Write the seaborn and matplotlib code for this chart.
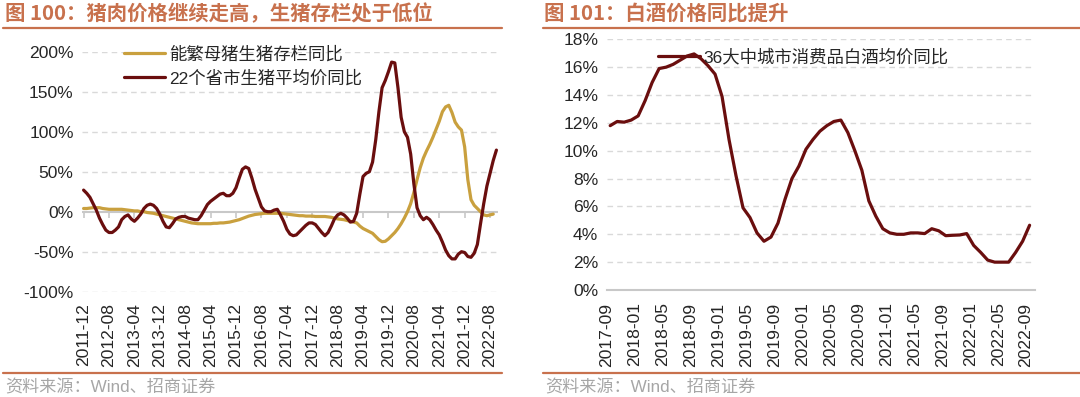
import numpy as np
import pandas as pd
import matplotlib
matplotlib.use('Agg')
import matplotlib.pyplot as plt
from matplotlib import font_manager
from matplotlib.lines import Line2D
import seaborn as sns

# ---------------- data ----------------
# left: 2011-12 .. 2022-10, monthly (%)
pig_months = pd.period_range('2011-12', '2022-10', freq='M').strftime('%Y-%m').tolist()
pig_price_yoy = [
    27, 23, 18, 10, 2, -8, -16, -23, -26, -26,
    -23, -19, -10, -6, -4, -9, -12, -8, -3, 4,
    8, 9.5, 8, 4, -3, -12, -19, -20, -15, -9,
    -7, -6, -6, -8, -9, -10, -10, -5, 2, 9,
    13, 16, 19, 22, 23, 20, 20, 23, 30, 42,
    53, 56, 54, 42, 28, 17, 6, 1, 0, 0,
    2, 3, -4, -12, -22, -28, -30, -29, -25, -21,
    -17, -14, -14, -16, -21, -26, -30, -26, -18, -9,
    -4, -2, -4, -8, -13, -12, -2, 22, 44, 48,
    50, 62, 90, 125, 155, 164, 175, 187, 186, 155,
    118, 100, 93, 72, 35, 5, -5, -10, -7, -10,
    -16, -23, -29, -38, -48, -55, -59, -59, -53, -50,
    -51, -56, -57, -52, -41, -15, 10, 32, 48, 64,
    77,
]
sow_stock_yoy = [
    4, 4, 4.5, 5, 5, 5, 4, 3.5, 3, 3,
    3, 3, 3, 2.5, 2, 1.5, 1, 1, 0, 0,
    -1, -1.5, -2, -3, -4, -5, -6, -7, -8, -9,
    -10, -11, -12, -13, -14, -14.5, -15, -15, -15, -15,
    -15, -14.5, -14.5, -14, -14, -13.5, -13, -12, -11, -10,
    -8.5, -7, -5.5, -4.5, -3.5, -3, -2.5, -2, -2, -2,
    -2, -2, -2, -2.5, -3, -3.5, -4, -4.5, -5, -5,
    -5.5, -5.5, -5.5, -6, -6, -6, -6, -6.5, -7, -8,
    -9, -9.5, -10, -11, -12, -13, -14, -18, -21, -23,
    -25, -27, -31, -35, -37.5, -37, -34, -30, -26, -21,
    -15, -8, 0, 10, 24, 40, 55, 67, 76, 84,
    93, 103, 113, 125, 131, 133, 124, 112, 106, 102,
    81, 40, 15, 8, 4, 0, -4, -5, -4, -3,
]
pig_yticks = [-100, -50, 0, 50, 100, 150, 200]

# right: 2017-09 .. 2022-09, monthly (%)
liquor_months = pd.period_range('2017-09', '2022-09', freq='M').strftime('%Y-%m').tolist()
liquor_price_yoy = [
    11.8, 12.1, 12.05, 12.2, 12.5, 13.6, 14.9, 15.9, 16.0, 16.2,
    16.5, 16.8, 16.95, 16.6, 16.1, 15.5, 13.9, 10.8, 8.2, 5.9,
    5.2, 4.1, 3.5, 3.8, 4.8, 6.5, 8.0, 8.9, 10.1, 10.8,
    11.4, 11.8, 12.1, 12.2, 11.3, 10.0, 8.6, 6.4, 5.3, 4.4,
    4.1, 4.0, 4.0, 4.1, 4.1, 4.05, 4.4, 4.25, 3.9, 3.93,
    3.95, 4.05, 3.2, 2.7, 2.15, 2.0, 2.0, 2.0, 2.7, 3.5,
    4.65,
]
liquor_yticks = list(range(0, 20, 2))

title_left = '图 100：猪肉价格继续走高，生猪存栏处于低位'
title_right = '图 101：白酒价格同比提升'
label_sow = '能繁母猪生猪存栏同比'
label_pig = '22个省市生猪平均价同比'
label_liquor = '36大中城市消费品白酒均价同比'
source_text = '资料来源：Wind、招商证券'

# ---------------- style ----------------
sns.set_theme(style='white')
available = {f.name for f in font_manager.fontManager.ttflist}
LATIN = next((f for f in ['Liberation Sans', 'Arimo', 'Arial', 'Roboto', 'DejaVu Sans']
              if f in available), 'DejaVu Sans')
plt.rcParams['font.family'] = [LATIN, 'Noto Sans CJK SC', 'DejaVu Sans']
CJK = ['Noto Sans CJK SC', 'DejaVu Sans']
MIXED = [LATIN, 'Noto Sans CJK SC', 'DejaVu Sans']
TICK_FS = 12.6

ACCENT = '#C8714D'
GOLD = '#C9A03E'
MAROON = '#6A0E0E'
GRID = '#D9D9D9'
AXIS = '#C8C8C8'
TEXT = '#262626'
SRC = '#A6A6A6'

fig = plt.figure(figsize=(10.8, 3.97), dpi=100)

# ---------------- left chart ----------------
ax1 = fig.add_axes([82 / 1080, 1 - 291.7 / 397, 416 / 1080, 240 / 397])
df_pig = pd.DataFrame({'x': np.arange(len(pig_months)), 'y': pig_price_yoy})
df_sow = pd.DataFrame({'x': np.arange(len(sow_stock_yoy)), 'y': sow_stock_yoy})
sns.lineplot(data=df_sow, x='x', y='y', ax=ax1, color=GOLD, lw=2.3, label=label_sow)
sns.lineplot(data=df_pig, x='x', y='y', ax=ax1, color=MAROON, lw=2.3, label=label_pig)

ax1.set_xlim(-0.5, len(pig_months) - 0.5)
ax1.set_ylim(-100, 200)
ax1.set_yticks(pig_yticks)
ax1.set_yticklabels([f'{v}%' for v in pig_yticks], fontsize=TICK_FS, color=TEXT, family=LATIN)
for v in pig_yticks:
    if v != 0:
        ax1.axhline(v, color=GRID, lw=1, ls=(0, (4, 3)), zorder=0)
ax1.axhline(0, color=AXIS, lw=1.5, zorder=1)
xt = list(range(0, len(pig_months), 8))
ax1.set_xticks(xt)
ax1.set_xticklabels([pig_months[i] for i in xt], rotation=90, fontsize=TICK_FS,
                    color=TEXT, family=LATIN)
ax1.tick_params(axis='x', length=0, pad=8)
ax1.tick_params(axis='y', length=0, pad=6)
sec = ax1.secondary_xaxis(1 / 3)
sec.set_xticks(xt)
sec.set_xticklabels([])
sec.tick_params(axis='x', direction='out', length=4, color=AXIS, width=1.2)
sec.spines['bottom'].set_visible(False)
for s in ax1.spines.values():
    s.set_visible(False)
ax1.set_xlabel('')
ax1.set_ylabel('')
leg1 = ax1.legend(loc='upper left', bbox_to_anchor=(0.1, 1.025), frameon=False,
                  prop={'family': MIXED, 'size': 12.5}, handlelength=2.4,
                  handletextpad=0.25, labelspacing=0.45, borderpad=0, borderaxespad=0)
for t in leg1.get_texts():
    t.set_color(TEXT)

# ---------------- right chart ----------------
ax2 = fig.add_axes([606.7 / 1080, 1 - 290 / 397, 428.5 / 1080, 250.7 / 397])
df_liq = pd.DataFrame({'x': np.arange(len(liquor_months)), 'y': liquor_price_yoy})
sns.lineplot(data=df_liq, x='x', y='y', ax=ax2, color=MAROON, lw=2.3, label=label_liquor)
ax2.set_xlim(-0.5, len(liquor_months) - 0.2)
ax2.set_ylim(0, 18)
ax2.set_yticks(liquor_yticks)
ax2.set_yticklabels([f'{v}%' for v in liquor_yticks], fontsize=TICK_FS, color=TEXT, family=LATIN)
for v in liquor_yticks[1:]:
    ax2.axhline(v, color=GRID, lw=1, ls=(0, (4, 3)), zorder=0)
xt2 = list(range(0, len(liquor_months), 4))
ax2.set_xticks([i - 0.5 for i in xt2])
ax2.set_xticklabels([liquor_months[i] for i in xt2], rotation=90, fontsize=TICK_FS,
                    color=TEXT, family=LATIN)
ax2.tick_params(axis='x', direction='out', length=4, color=AXIS, width=1.2, pad=5)
ax2.tick_params(axis='y', length=0, pad=6)
for k, s in ax2.spines.items():
    s.set_visible(k == 'bottom')
ax2.spines['bottom'].set_color(AXIS)
ax2.spines['bottom'].set_linewidth(1.5)
ax2.set_xlabel('')
ax2.set_ylabel('')
leg2 = ax2.legend(loc='upper left', bbox_to_anchor=(0.12, 0.965), frameon=False,
                  prop={'family': MIXED, 'size': 12.5}, handlelength=2.4,
                  handletextpad=0.2, borderpad=0, borderaxespad=0)
for t in leg2.get_texts():
    t.set_color(TEXT)

# ---------------- titles, rules, source ----------------
fig.text(5 / 1080, 1 - 14 / 397, title_left, family=CJK, fontsize=14.7,
         fontweight='bold', color=ACCENT, va='center', ha='left')
fig.text(544 / 1080, 1 - 14 / 397, title_right, family=CJK, fontsize=14.7,
         fontweight='bold', color=ACCENT, va='center', ha='left')
for x0, x1 in [(3, 502), (543, 1080)]:
    for yy in (28, 373):
        fig.add_artist(Line2D([x0 / 1080, x1 / 1080], [1 - yy / 397] * 2,
                              color=ACCENT, lw=1.6, transform=fig.transFigure))
    fig.text((x0 + 2) / 1080, 1 - 387 / 397, source_text, family=MIXED, fontsize=12.3,
             color=SRC, va='center', ha='left')

fig.savefig('out.png', dpi=100)
